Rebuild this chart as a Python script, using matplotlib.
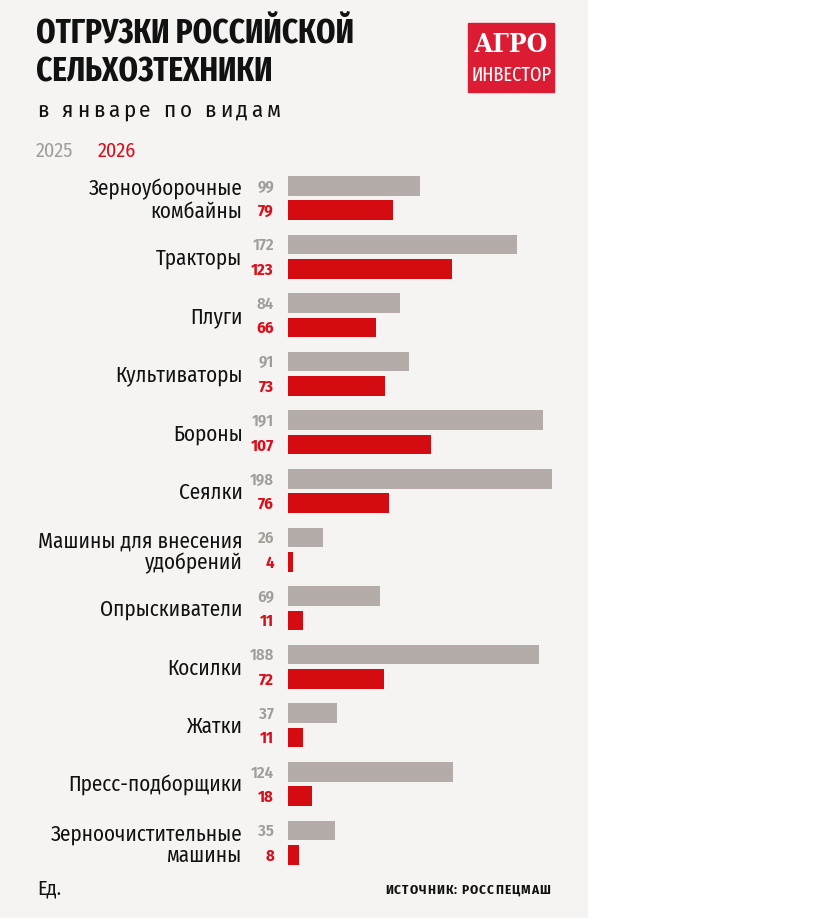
import numpy as np
import matplotlib
matplotlib.use("Agg")
import matplotlib.pyplot as plt
from matplotlib.patches import Rectangle
from matplotlib import transforms

# данные: отгрузки в январе, ед.
categories = ["Зерноуборочные\nкомбайны", "Тракторы", "Плуги", "Культиваторы",
              "Бороны", "Сеялки", "Машины для внесения\nудобрений", "Опрыскиватели",
              "Косилки", "Жатки", "Пресс-подборщики", "Зерноочистительные\nмашины"]
values_2025 = [99, 172, 84, 91, 191, 198, 26, 69, 188, 37, 124, 35]
values_2026 = [79, 123, 66, 73, 107, 76, 4, 11, 72, 11, 18, 8]
years = ["2025", "2026"]

W, H = 830, 918
BG = "#f5f4f2"
GRAY = "#b4aca9"
GRAY_TXT = "#a29d99"
RED = "#d50b12"
RED_TXT = "#d8101c"
DARK = "#111111"
FONT = "Fira Sans Condensed"
FONT_XC = "Fira Sans Extra Condensed"

fig = plt.figure(figsize=(W / 100, H / 100), dpi=100, facecolor="white")
fig.patches.append(Rectangle((0, 0), 587 / W, 1, transform=fig.transFigure,
                             color=BG, zorder=-1))


def fx(x):
    return x / W


def fy(y):
    return 1 - y / H


def spaced(x, y, s, gap, space, **kw):
    # текст с разрядкой: gap — просвет между буквами, space — между словами (px)
    r = fig.canvas.get_renderer()
    for ch in s:
        if ch == " ":
            x += space - gap
            continue
        t = fig.text(fx(x), fy(y), ch, ha="left", va="baseline", **kw)
        x += t.get_window_extent(r).width + gap


# заголовок
fig.text(fx(36), fy(44), "ОТГРУЗКИ РОССИЙСКОЙ", family=FONT_XC, weight="bold",
         fontsize=24.3, color=DARK, ha="left", va="baseline")
fig.text(fx(36), fy(81), "СЕЛЬХОЗТЕХНИКИ", family=FONT_XC, weight="bold",
         fontsize=24.3, color=DARK, ha="left", va="baseline")
spaced(37, 117, "в январе по видам", 3.8, 13.0, family=FONT, fontsize=16.5, color=DARK)

# легенда
fig.text(fx(36), fy(157), years[0], family=FONT, fontsize=14.5, color=GRAY_TXT,
         ha="left", va="baseline")
fig.text(fx(98), fy(157), years[1], family=FONT, fontsize=14.5, color=RED_TXT,
         ha="left", va="baseline")

# логотип
fig.patches.append(Rectangle((fx(468), fy(92)), 86 / W, 69 / H,
                             transform=fig.transFigure, color="#dc1c32", zorder=1))
fig.text(fx(511), fy(52), "АГРО", family="DejaVu Serif", stretch="condensed",
         weight="bold", fontsize=19, color="white", ha="center", va="baseline", zorder=2)
fig.text(fx(511), fy(81), "ИНВЕСТОР", family=FONT_XC,
         weight="normal", fontsize=14.5, color="white", ha="center", va="baseline", zorder=2)

# столбики
pitch = 58.6
n = len(categories)
top = 198 - pitch / 2
xmax = 200
ax = fig.add_axes([fx(288), fy(top + n * pitch), xmax * (264 / 198) / W, n * pitch / H])
ax.set_xlim(0, xmax)
ax.set_ylim(n - 0.5, -0.5)
ax.axis("off")
ax.patch.set_alpha(0)

ys = np.arange(n)
off = 12.2 / pitch
bh = 19.5 / pitch
ax.barh(ys - off, values_2025, height=bh, color=GRAY)
ax.barh(ys + off, values_2026, height=bh, color=RED)


def shifted(dx_px, dy_px):
    return transforms.offset_copy(ax.transData, fig=fig, x=dx_px * 0.72,
                                  y=-dy_px * 0.72, units="points")


for i in range(n):
    ax.text(0, ys[i] - off, str(values_2025[i]), transform=shifted(-14, 5.7),
            ha="right", va="baseline", family=FONT, weight="semibold",
            fontsize=12, color=GRAY_TXT)
    ax.text(0, ys[i] + off, str(values_2026[i]), transform=shifted(-14, 5.7),
            ha="right", va="baseline", family=FONT, weight="bold",
            fontsize=12, color=RED_TXT)
    lines = categories[i].split("\n")
    dys = [7.8] if len(lines) == 1 else [-2.3, 19.5]
    for line, dy in zip(lines, dys):
        ax.text(0, ys[i], line, transform=shifted(-45.5, dy), ha="right",
                va="baseline", family=FONT, fontsize=15.2, color=DARK)

# подвал
fig.text(fx(37), fy(894), "Ед.", family=FONT, fontsize=14.5, color=DARK,
         ha="left", va="baseline")
spaced(385, 894, "ИСТОЧНИК: РОССПЕЦМАШ", 1.0, 5, family=FONT, weight="bold",
       fontsize=9.5, color=DARK)

fig.savefig("out.png", dpi=100, facecolor="white")
